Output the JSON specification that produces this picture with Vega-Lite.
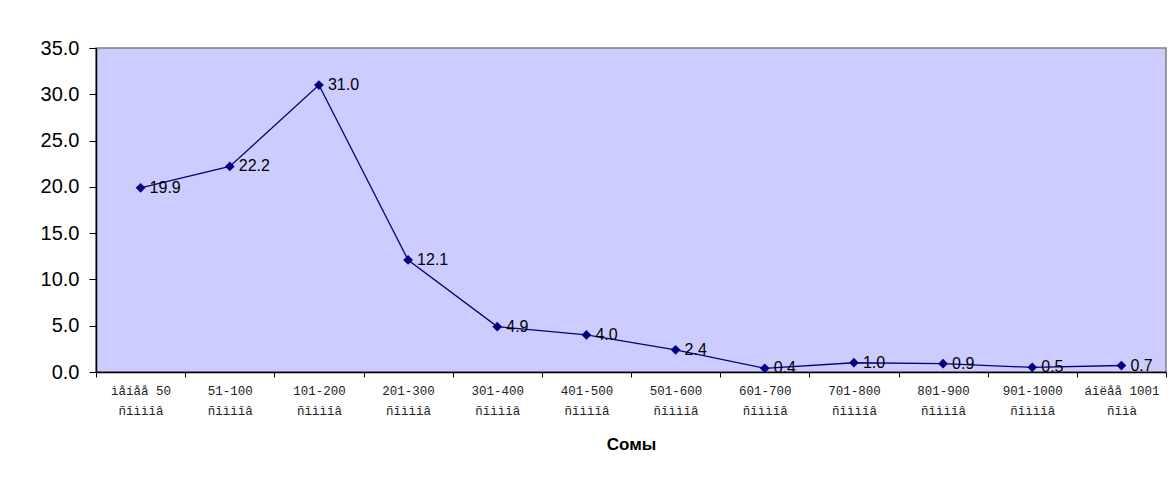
{
  "$schema": "https://vega.github.io/schema/vega-lite/v6.json",
  "width": 1070,
  "height": 324,
  "autosize": {"type": "none"},
  "padding": {"left": 96, "top": 48, "right": 6, "bottom": 120},
  "background": "white",
  "config": {
    "view": {"fill": "#CCCCFF", "stroke": "#808080", "strokeWidth": 1.5},
    "font": "Liberation Sans"
  },
  "data": {
    "values": [
      {"cat": "ìåíåå 50|ñîììîâ", "v": 19.9},
      {"cat": "51-100|ñîììîâ", "v": 22.2},
      {"cat": "101-200|ñîììîâ", "v": 31.0},
      {"cat": "201-300|ñîììîâ", "v": 12.1},
      {"cat": "301-400|ñîììîâ", "v": 4.9},
      {"cat": "401-500|ñîììîâ", "v": 4.0},
      {"cat": "501-600|ñîììîâ", "v": 2.4},
      {"cat": "601-700|ñîììîâ", "v": 0.4},
      {"cat": "701-800|ñîììîâ", "v": 1.0},
      {"cat": "801-900|ñîììîâ", "v": 0.9},
      {"cat": "901-1000|ñîììîâ", "v": 0.5},
      {"cat": "áîëåå 1001|ñîìà", "v": 0.7}
    ]
  },
  "encoding": {
    "x": {
      "field": "cat",
      "type": "nominal",
      "sort": null,
      "scale": {"type": "band", "paddingInner": 0, "paddingOuter": 0},
      "axis": {
        "title": "Сомы",
        "titleFont": "Liberation Sans",
        "titleFontSize": 17,
        "titleFontWeight": "bold",
        "titleColor": "black",
        "titlePadding": 20,
        "labelAngle": 0,
        "labelExpr": "split(datum.label, '|')",
        "labelFont": "Liberation Mono",
        "labelFontSize": 12.5,
        "labelColor": "#222222",
        "labelLineHeight": 20,
        "labelPadding": 7,
        "tickBand": "extent",
        "tickColor": "black",
        "tickSize": 5,
        "domainColor": "black",
        "domainWidth": 1.5,
        "grid": false
      }
    },
    "y": {
      "field": "v",
      "type": "quantitative",
      "scale": {"domain": [0, 35], "nice": false},
      "axis": {
        "title": null,
        "values": [0, 5, 10, 15, 20, 25, 30, 35],
        "format": ".1f",
        "labelFont": "Liberation Sans",
        "labelFontSize": 20,
        "labelColor": "black",
        "labelPadding": 10,
        "tickColor": "black",
        "tickSize": 7,
        "domainColor": "black",
        "domainWidth": 1.5,
        "grid": false
      }
    }
  },
  "layer": [
    {"mark": {"type": "line", "color": "#000080", "strokeWidth": 1.3}},
    {"mark": {"type": "point", "shape": "diamond", "filled": true, "color": "#000080", "size": 95, "opacity": 1}},
    {
      "mark": {"type": "text", "align": "left", "baseline": "middle", "dx": 9, "dy": 0, "fontSize": 16, "font": "Liberation Sans", "color": "black"},
      "encoding": {"text": {"field": "v", "type": "quantitative", "format": ".1f"}}
    }
  ]
}
